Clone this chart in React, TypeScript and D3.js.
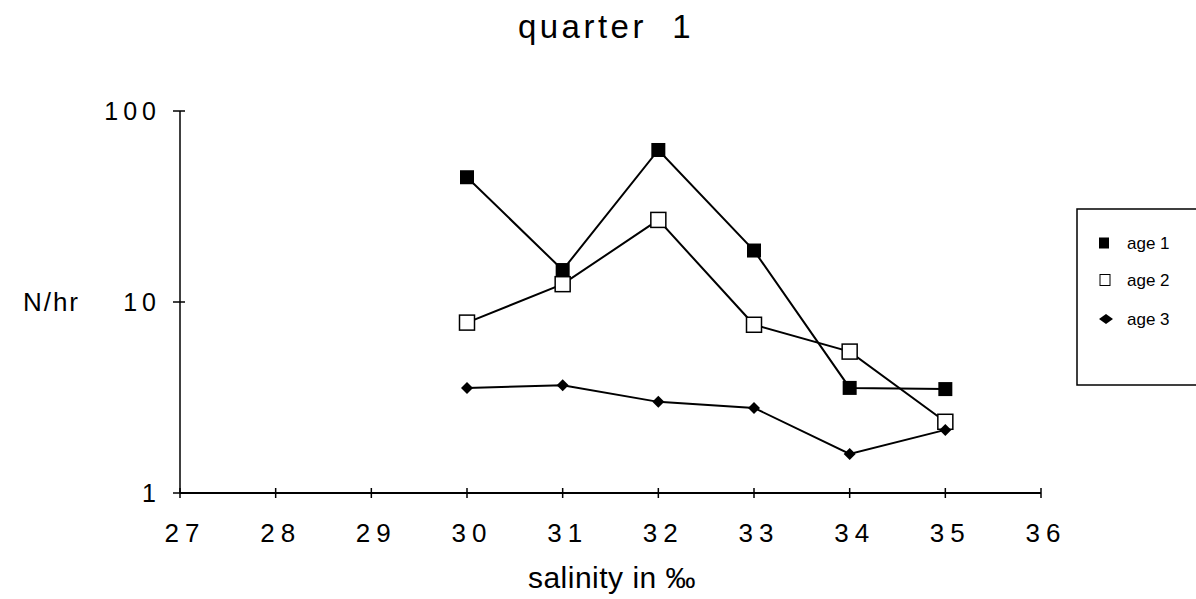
import React, { useRef, useEffect } from 'react';
import * as d3 from 'd3';

const salinity = [30, 31, 32, 33, 34, 35];
const age1 = [45, 14.7, 62.5, 18.6, 3.55, 3.5];
const age2 = [7.8, 12.4, 26.9, 7.6, 5.5, 2.36];
const age3 = [3.55, 3.67, 3.0, 2.79, 1.6, 2.14];
const xTicks = [27, 28, 29, 30, 31, 32, 33, 34, 35, 36];
const yTicks = [1, 10, 100];
const seriesNames = ['age 1', 'age 2', 'age 3'];

const W = 1196;
const H = 599;

const App: React.FC = () => {
  const svgRef = useRef<SVGSVGElement | null>(null);

  useEffect(() => {
    if (!svgRef.current) return;
    const svg = d3.select(svgRef.current);
    svg.selectAll('*').remove();

    const font = '"Liberation Sans", Arial, sans-serif';
    const x = d3.scaleLinear().domain([27, 36]).range([180, 1041]);
    const y = d3.scaleLog().domain([1, 100]).range([493, 111]);

    // Title
    svg.append('text')
      .attr('x', 606).attr('y', 38)
      .attr('text-anchor', 'middle')
      .attr('font-family', font).attr('font-size', 33)
      .attr('letter-spacing', 3.5)
      .style('white-space', 'pre')
      .text('quarter  1');

    // Axes
    const g = svg.append('g');
    g.append('line')
      .attr('x1', x(27)).attr('x2', x(36))
      .attr('y1', y(1)).attr('y2', y(1))
      .attr('stroke', '#000').attr('stroke-width', 2);
    g.append('line')
      .attr('x1', x(27)).attr('x2', x(27))
      .attr('y1', y(1)).attr('y2', y(100))
      .attr('stroke', '#000').attr('stroke-width', 1.5);

    g.selectAll('.xt')
      .data(xTicks)
      .join('line')
      .attr('x1', d => x(d)).attr('x2', d => x(d))
      .attr('y1', y(1) - 5).attr('y2', y(1) + 5)
      .attr('stroke', '#000').attr('stroke-width', 1.5);

    g.selectAll('.xl')
      .data(xTicks)
      .join('text')
      .attr('x', d => x(d) + 5).attr('y', 542)
      .attr('text-anchor', 'middle')
      .attr('font-family', font).attr('font-size', 26)
      .attr('letter-spacing', 6)
      .text(d => String(d));

    g.selectAll('.yt')
      .data(yTicks)
      .join('line')
      .attr('x1', x(27) - 7).attr('x2', x(27) + 5)
      .attr('y1', d => y(d)).attr('y2', d => y(d))
      .attr('stroke', '#000').attr('stroke-width', 1.5);

    g.selectAll('.yl')
      .data(yTicks)
      .join('text')
      .attr('x', 161).attr('y', d => y(d) + 9)
      .attr('text-anchor', 'end')
      .attr('font-family', font).attr('font-size', 25)
      .attr('letter-spacing', 5)
      .text(d => String(d));

    // Axis titles
    svg.append('text')
      .attr('x', 80).attr('y', 311)
      .attr('text-anchor', 'end')
      .attr('font-family', font).attr('font-size', 26)
      .attr('letter-spacing', 2)
      .text('N/hr');

    svg.append('text')
      .attr('x', 612).attr('y', 588)
      .attr('text-anchor', 'middle')
      .attr('font-family', font).attr('font-size', 30)
      .attr('letter-spacing', 0.5)
      .text('salinity in ‰');

    // Series
    const series = [age1, age2, age3];
    const line = d3.line<number>()
      .x((_, i) => x(salinity[i]))
      .y(d => y(d));

    series.forEach(vals => {
      svg.append('path')
        .datum(vals)
        .attr('d', line)
        .attr('fill', 'none')
        .attr('stroke', '#000')
        .attr('stroke-width', 2);
    });

    const drawMarker = (sel: any, kind: number, cx: number, cy: number) => {
      if (kind === 0) {
        sel.append('rect')
          .attr('x', cx - 7).attr('y', cy - 7)
          .attr('width', 14).attr('height', 14)
          .attr('fill', '#000');
      } else if (kind === 1) {
        sel.append('rect')
          .attr('x', cx - 7.5).attr('y', cy - 7.5)
          .attr('width', 15).attr('height', 15)
          .attr('fill', '#fff').attr('stroke', '#000').attr('stroke-width', 1.5);
      } else {
        sel.append('path')
          .attr('d', `M${cx},${cy - 6}L${cx + 6},${cy}L${cx},${cy + 6}L${cx - 6},${cy}Z`)
          .attr('fill', '#000');
      }
    };

    const markers = svg.append('g');
    [1, 0, 2].forEach(k => {
      series[k].forEach((v, i) => drawMarker(markers, k, x(salinity[i]), y(v)));
    });

    // Legend
    const lg = svg.append('g');
    lg.append('rect')
      .attr('x', 1077).attr('y', 209)
      .attr('width', 130).attr('height', 176)
      .attr('fill', '#fff').attr('stroke', '#000').attr('stroke-width', 1.5);
    const legendY = [243, 280, 319];
    seriesNames.forEach((name, i) => {
      const ly = legendY[i];
      if (i === 0) {
        lg.append('rect').attr('x', 1099).attr('y', ly - 5.5).attr('width', 10).attr('height', 11).attr('fill', '#000');
      } else if (i === 1) {
        lg.append('rect').attr('x', 1100).attr('y', ly - 5.5).attr('width', 10).attr('height', 11)
          .attr('fill', '#fff').attr('stroke', '#000').attr('stroke-width', 1);
      } else {
        lg.append('path')
          .attr('d', `M1106,${ly - 5}L1113,${ly}L1106,${ly + 5}L1099,${ly}Z`)
          .attr('fill', '#000');
      }
      lg.append('text')
        .attr('x', 1127).attr('y', ly + 6)
        .attr('font-family', font).attr('font-size', 17)
        .text(name);
    });
  }, []);

  return (
    <svg
      ref={svgRef}
      width={W}
      height={H}
      style={{ position: 'absolute', left: 0, top: 0, background: '#fff' }}
    />
  );
};

export default App;
